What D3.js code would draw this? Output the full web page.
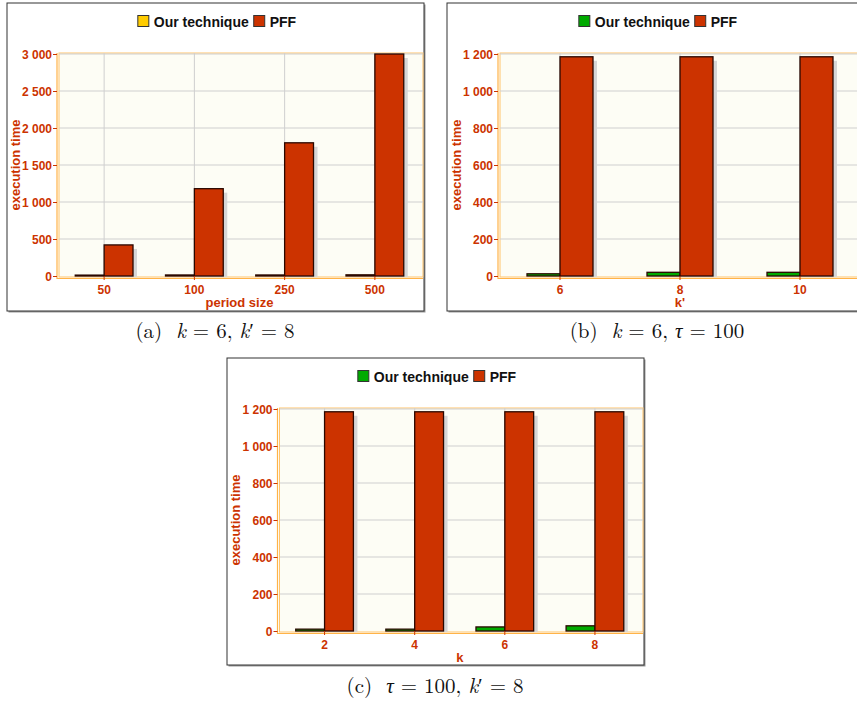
<!DOCTYPE html>
<html><head><meta charset="utf-8">
<script src="https://cdn.jsdelivr.net/npm/d3@7/dist/d3.min.js"></script>
<style>body{margin:0;background:#fff}svg{display:block}</style>
</head><body>
<svg id="c" width="857" height="702"></svg>
<script>
// ---- data ----
const seriesNames = ["Our technique", "PFF"];
const catsA = ["50", "100", "250", "500"];
const oursA = [12, 14, 14, 16];
const pffA  = [420, 1180, 1800, 3000];
const ticksA = [0, 500, 1000, 1500, 2000, 2500, 3000];

const catsB = ["6", "8", "10"];
const oursB = [12, 20, 20];
const pffB  = [1185, 1185, 1185];
const ticksB = [0, 200, 400, 600, 800, 1000, 1200];

const catsC = ["2", "4", "6", "8"];
const oursC = [10, 10, 22, 28];
const pffC  = [1185, 1185, 1185, 1185];
const ticksC = [0, 200, 400, 600, 800, 1000, 1200];

// ---- styles / layout ----
const RED = "#cc3300", TXT = "#cc3300";
const fmt = d3.formatLocale({decimal: ".", thousands: " ", grouping: [3], currency: ["", ""]}).format(",");
const svg = d3.select("#c");
const font = "'Liberation Sans', Arial, sans-serif";

const panels = [
  {cats: catsA, ours: oursA, pff: pffA, ticks: ticksA, oursColor: "#ffcc00", xTitle: "period size",
   frame: [7, 3, 417, 308], plot: [59, 53, 420, 277], bandFrac: 0.32, legendCx: 217},
  {cats: catsB, ours: oursB, pff: pffB, ticks: ticksB, oursColor: "#00aa00", xTitle: "k'",
   frame: [447, 3, 419, 308], plot: [500, 53, 860, 277], bandFrac: 0.275, legendCx: 658},
  {cats: catsC, ours: oursC, pff: pffC, ticks: ticksC, oursColor: "#00aa00", xTitle: "k",
   frame: [227, 358, 417, 307], plot: [279.5, 408, 640, 632], bandFrac: 0.32, legendCx: 437}
];

panels.forEach(p => {
  const [fx, fy, fw, fh] = p.frame;
  const [x0, y0, x1, y1] = p.plot;
  const g = svg.append("g");
  // frame
  g.append("rect").attr("x", fx + 1.5).attr("y", fy + 1.5).attr("width", fw).attr("height", fh)
    .attr("fill", "#999");
  g.append("rect").attr("x", fx).attr("y", fy).attr("width", fw).attr("height", fh)
    .attr("fill", "#fff").attr("stroke", "#333").attr("stroke-width", 1);

  const x = d3.scaleBand().domain(p.cats).range([x0, x1]).padding(0);
  const y = d3.scaleLinear().domain([0, d3.max(p.ticks)]).range([y1 - 1, y0 + 1]);
  const bw = x.bandwidth() * p.bandFrac;

  // plot background
  g.append("rect").attr("x", x0).attr("y", y0).attr("width", x1 - x0 + 3).attr("height", y1 - y0)
    .attr("fill", "#fdfdf5").attr("stroke", "#ffc36b").attr("stroke-width", 1);

  const clipId = "clip" + fx;
  svg.append("clipPath").attr("id", clipId).append("rect")
    .attr("x", x0).attr("y", y0).attr("width", x1 - x0 + 3).attr("height", y1 - y0);
  const pg = g.append("g").attr("clip-path", `url(#${clipId})`);

  // grid
  pg.selectAll(".hg").data(p.ticks.slice(1)).join("line")
    .attr("x1", x0).attr("x2", x1 + 3).attr("y1", d => y(d)).attr("y2", d => y(d))
    .attr("stroke", "#cfcfcf").attr("stroke-width", 1);
  pg.selectAll(".vg").data(p.cats).join("line")
    .attr("x1", d => x(d) + x.bandwidth() / 2).attr("x2", d => x(d) + x.bandwidth() / 2)
    .attr("y1", y0).attr("y2", y1).attr("stroke", "#cfcfcf").attr("stroke-width", 1);

  // bars
  const rows = p.cats.map((c, i) => ({c, ours: p.ours[i], pff: p.pff[i]}));
  const bars = [];
  rows.forEach(r => {
    const cx = x(r.c) + x.bandwidth() / 2;
    bars.push({x: cx - bw, v: r.ours, color: p.oursColor});
    bars.push({x: cx, v: r.pff, color: RED});
  });
  pg.selectAll(".sh").data(bars).join("rect")
    .attr("x", d => d.x + 4).attr("y", d => y(d.v) + 4).attr("width", bw)
    .attr("height", d => y(0) - y(d.v)).attr("fill", "#d6d6d6");
  pg.selectAll(".bar").data(bars).join("rect")
    .attr("x", d => d.x).attr("y", d => y(d.v)).attr("width", bw)
    .attr("height", d => y(0) - y(d.v)).attr("fill", d => d.color)
    .attr("stroke", "#2a0800").attr("stroke-width", 1.3);

  // axes lines
  g.append("line").attr("x1", x0 - 2).attr("x2", x0 - 2).attr("y1", y0).attr("y2", y1 + 2)
    .attr("stroke", "#ffb347").attr("stroke-width", 1.2);
  g.append("line").attr("x1", x0 - 2).attr("x2", x1 + 3).attr("y1", y1 + 1.5).attr("y2", y1 + 1.5)
    .attr("stroke", "#ffb347").attr("stroke-width", 1.2);

  // y axis ticks + labels
  const yAxis = d3.axisLeft(y).tickValues(p.ticks).tickFormat(fmt).tickSize(4).tickPadding(1);
  const ya = g.append("g").attr("transform", `translate(${x0 - 2},0)`).call(yAxis);
  ya.select(".domain").remove();
  ya.selectAll(".tick line").attr("stroke", RED);
  ya.selectAll(".tick text").attr("fill", TXT).attr("font-family", font).attr("font-weight", "bold")
    .attr("font-size", 12).attr("dy", "0.36em");

  // x axis
  const xAxis = d3.axisBottom(x).tickSize(4).tickPadding(5);
  const xa = g.append("g").attr("transform", `translate(0,${y1 - 1})`).call(xAxis);
  xa.select(".domain").remove();
  xa.selectAll(".tick line").attr("stroke", RED);
  xa.selectAll(".tick text").attr("fill", TXT).attr("font-family", font).attr("font-weight", "bold")
    .attr("font-size", 12);

  // titles
  g.append("text").attr("x", (x0 + x1) / 2).attr("y", y1 + 30).attr("text-anchor", "middle")
    .attr("fill", TXT).attr("font-family", font).attr("font-weight", "bold").attr("font-size", 13)
    .text(p.xTitle);
  g.append("text").attr("transform", `translate(${x0 - 39.5},${(y0 + y1) / 2}) rotate(-90)`)
    .attr("text-anchor", "middle").attr("fill", TXT).attr("font-family", font)
    .attr("font-weight", "bold").attr("font-size", 13).text("execution time");

  // legend
  const lg = g.append("g");
  const ly = fy + 24;
  const items = [{name: seriesNames[0], color: p.oursColor}, {name: seriesNames[1], color: RED}];
  let cx = 0;
  items.forEach(it => {
    const gi = lg.append("g");
    gi.append("rect").attr("x", cx).attr("y", ly - 11.5).attr("width", 11).attr("height", 11)
      .attr("fill", it.color).attr("stroke", "#333").attr("stroke-width", 1);
    const t = gi.append("text").attr("x", cx + 16).attr("y", ly).attr("font-family", font)
      .attr("font-weight", "bold").attr("font-size", 14).attr("fill", "#111").text(it.name);
    cx += 16 + t.node().getComputedTextLength() + 5;
  });
  const total = cx - 5;
  lg.attr("transform", `translate(${p.legendCx - total / 2},0)`);
});

// captions
const capFont = "'Latin Modern Roman','CMU Serif','Liberation Serif','Times New Roman',serif";
function caption(cx, yb, parts) {
  const t = svg.append("text").attr("x", cx).attr("y", yb).attr("text-anchor", "middle")
    .attr("font-family", capFont).attr("font-size", 21).attr("fill", "#111")
    .attr("xml:space", "preserve");
  parts.forEach(([s, it]) => t.append("tspan").attr("font-style", it ? "italic" : "normal").text(s));
}
caption(215, 338, [["(a)  ", 0], ["k", 1], [" = 6, ", 0], ["k", 1], ["\u2032 = 8", 0]]);
caption(657, 338, [["(b)  ", 0], ["k", 1], [" = 6, ", 0], ["\u03c4", 1], [" = 100", 0]]);
caption(435, 693, [["(c)  ", 0], ["\u03c4", 1], [" = 100, ", 0], ["k", 1], ["\u2032 = 8", 0]]);
</script>
</body></html>
